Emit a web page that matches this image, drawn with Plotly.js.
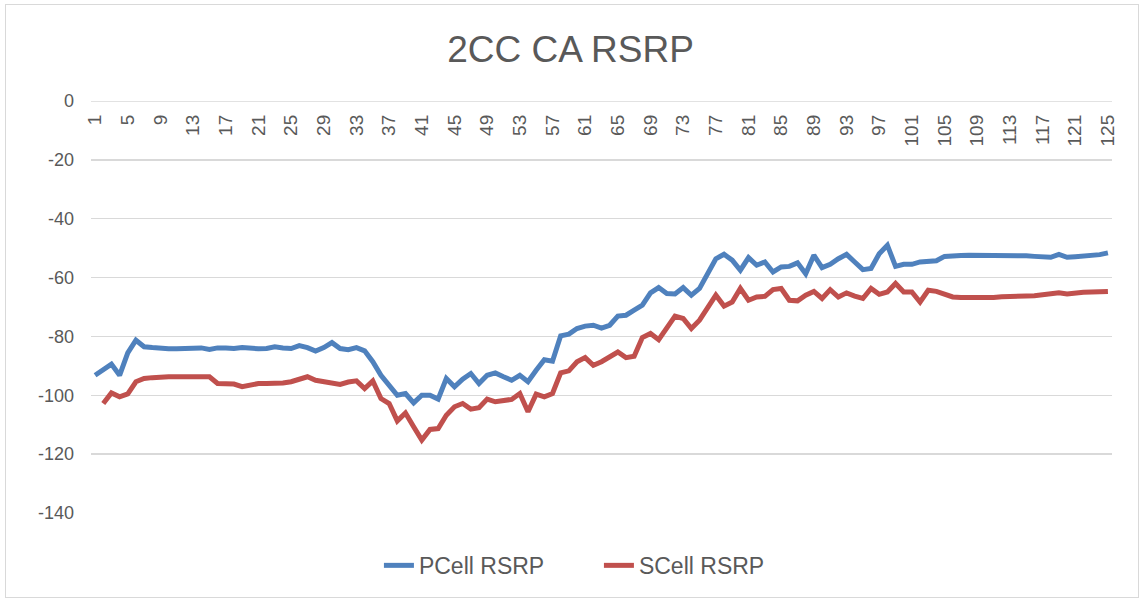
<!DOCTYPE html>
<html>
<head>
<meta charset="utf-8">
<script src="https://cdn.plot.ly/plotly-3.0.1.min.js"></script>
<style>
html,body{margin:0;padding:0;background:#fff;}
#wrap{position:relative;width:1141px;height:599px;}
#chart{position:absolute;left:0;top:0;width:1141px;height:599px;}
#frame{position:absolute;left:5px;top:4px;width:1132px;height:592px;border:1px solid #d9d9d9;pointer-events:none;}
</style>
</head>
<body>
<div id="wrap"><div id="chart"></div><div id="frame"></div></div>
<script>
const categories = Array.from({length:125}, (_, k) => k + 1);

const pcellRSRP = [
 -93.2,-91.2,-89.4,-93.2,-85.6,-81.3,-83.5,-83.8,-84.1,-84.2,
 -84.2,-84.2,-84.2,-83.9,-84.4,-83.9,-83.9,-84.1,-83.8,-84.2,
 -84.2,-84.1,-83.5,-83.9,-84.1,-83.1,-83.8,-85.0,-83.8,-82.1,
 -84.1,-84.5,-83.8,-84.9,-88.6,-93.2,-96.6,-100.0,-99.4,-102.6,
 -100.0,-100.0,-101.3,-94.3,-97.1,-94.5,-92.6,-96.0,-93.2,-92.4,
 -93.7,-94.9,-93.2,-95.4,-91.5,-87.9,-88.4,-79.8,-79.2,-77.3,
 -76.5,-76.2,-77.2,-76.2,-73.1,-72.8,-71.1,-69.4,-65.2,-63.4,
 -65.4,-65.6,-63.4,-66.0,-63.7,-58.7,-53.6,-52.1,-54.1,-57.5,
 -53.2,-55.8,-54.7,-58.1,-56.4,-56.2,-55.0,-58.7,-52.4,-56.6,
 -55.5,-53.6,-52.1,-54.7,-57.3,-56.9,-51.9,-49.0,-56.2,-55.5,
 -55.5,-54.7,-54.7,-54.3,-52.8,-52.5,-52.5,-52.4,-52.4,-52.4,
 -52.4,-52.4,-52.3,-52.5,-52.6,-52.8,-53.0,-53.1,-52.1,-53.1,
 -52.9,-52.8,-52.6,-52.2,-51.6
];

const scellRSRP = [
 null,-102.8,-99.2,-100.5,-99.5,-95.4,-94.3,-94.0,-93.7,-93.7,
 -93.7,-93.7,-93.7,-93.7,-93.7,-96.0,-96.0,-96.2,-97.1,-96.4,
 -96.0,-96.0,-96.0,-95.8,-95.4,-94.7,-93.7,-94.9,-95.5,-96.0,
 -96.3,-95.5,-95.1,-97.7,-95.1,-101.1,-102.8,-108.7,-106.0,-110.7,
 -115.2,-111.6,-111.3,-106.8,-103.9,-102.8,-104.7,-104.2,-101.3,-102.2,
 -101.7,-101.4,-99.4,-105.6,-99.6,-100.5,-99.4,-92.4,-91.7,-88.6,
 -87.2,-89.8,-88.6,-87.0,-85.3,-87.2,-86.7,-80.4,-79.0,-81.1,
 -76.8,-73.1,-73.9,-77.3,-74.5,-70.5,-66.0,-69.7,-68.3,-63.7,
 -67.7,-66.6,-66.4,-64.1,-63.7,-67.7,-67.9,-66.0,-64.7,-67.1,
 -64.1,-66.6,-65.2,-66.3,-67.1,-63.7,-65.7,-64.9,-62.0,-64.9,
 -64.9,-68.3,-64.3,-64.7,-65.5,-66.6,-66.8,-66.9,-66.9,-66.9,
 -66.8,-66.5,-66.3,-66.3,-66.3,-66.2,-66.0,-65.8,-65.2,-65.6,
 -65.2,-65.0,-64.9,-64.9,-64.7
];

const seriesNames = ['PCell RSRP', 'SCell RSRP'];
const yTicks = [0, -20, -40, -60, -80, -100, -120, -140];

const font = 'Arial, "Liberation Sans", sans-serif';

const traces = [
  {x: categories, y: pcellRSRP, name: seriesNames[0], type: 'scatter', mode: 'lines',
   line: {color: '#4f81bd', width: 5, shape: 'linear'}, connectgaps: false},
  {x: categories, y: scellRSRP, name: seriesNames[1], type: 'scatter', mode: 'lines',
   line: {color: '#c0504d', width: 5, shape: 'linear'}, connectgaps: false}
];

const layout = {
  width: 1141, height: 599,
  margin: {l: 91, r: 29, t: 101, b: 86},
  paper_bgcolor: '#ffffff', plot_bgcolor: '#ffffff',
  font: {family: font, color: '#595959', size: 17},
  title: {text: '2CC CA RSRP', x: 0.5, xanchor: 'center', y: 0.918, yanchor: 'middle',
          font: {family: font, size: 37, color: '#595959'}},
  showlegend: true,
  legend: {orientation: 'h', x: 0.282, xanchor: 'left', y: -0.075, yanchor: 'top',
           entrywidth: 175, entrywidthmode: 'pixels',
           font: {family: font, size: 23, color: '#595959'}, tracegroupgap: 0},
  shapes: [
    {type: 'line', xref: 'paper', x0: 0, x1: 1, yref: 'y', y0: 0, y1: 0,
     line: {color: '#d9d9d9', width: 1.3}, layer: 'below'}
  ],
  xaxis: {
    range: [0.5, 125.5], tickmode: 'linear', tick0: 1, dtick: 4,
    tickangle: -90, side: 'bottom', anchor: 'free', position: 1,
    ticklabelstandoff: 9,
    showgrid: false, zeroline: false, showline: false, ticks: '',
    tickfont: {family: font, size: 19, color: '#595959'}, fixedrange: true
  },
  yaxis: {
    range: [-140, 0], tickmode: 'array', tickvals: yTicks, ticktext: yTicks.map(String),
    showgrid: true, gridcolor: '#d9d9d9', gridwidth: 1.3, zeroline: false, showline: false,
    ticks: '', ticklen: 0, ticklabelstandoff: 16,
    tickfont: {family: font, size: 18, color: '#595959'}, fixedrange: true
  }
};

Plotly.newPlot('chart', traces, layout, {displayModeBar: false, staticPlot: true});
</script>
</body>
</html>
